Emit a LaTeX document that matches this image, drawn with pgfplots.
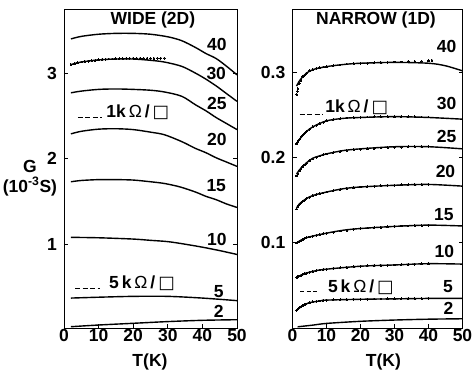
\documentclass[border=0pt]{standalone}
\usepackage{fontspec}
\setmainfont{Liberation Sans}
\newfontfamily\dejavu{DejaVu Sans}
\usepackage{pgfplots}
\pgfplotsset{compat=1.18}
\newcommand{\ff}{\fontsize{17.5}{19.5}\selectfont\bfseries}
\newcommand{\sq}{{\dejavu\mdseries □}}
\newcommand{\om}{{\mdseries Ω}}
\tikzset{
  cl/.style={font=\ff},
  dots/.style={only marks, mark=*, mark size=0.9pt, line width=0pt},
}
\pgfplotsset{
  panel/.style={
    scale only axis, height=319pt, xmin=0, xmax=50,
    xtick={0,10,20,30,40,50}, tick align=inside, xtick pos=left, ytick pos=both,
    axis line style={line width=0.8pt}, major tick length=4pt,
    tick style={line width=0.6pt, black},
    tick label style={font=\ff}, label style={font=\ff},
    /pgf/number format/assume math mode=true,
    xticklabel style={anchor=north, inner sep=0pt, yshift=-1.5pt},
    yticklabel style={anchor=east, inner sep=0pt, xshift=-7pt},
    every axis plot/.append style={line width=1.4pt, black},
    xlabel={T(K)},
  }
}
\begin{document}
\begin{tikzpicture}
\useasboundingbox (-64pt,-45pt) rectangle (410pt,328pt);
% ---------------- WIDE (2D) ----------------
\begin{axis}[panel, at={(0pt,0pt)}, anchor=south west, width=173pt,
  ymin=0.02, ymax=3.75, ytick={1,2,3},
  xlabel style={at={(axis description cs:0.497,0)}, anchor=center, yshift=-34pt},
  ylabel={G\\(10\textsuperscript{-3}S)},
  ylabel style={at={(axis description cs:-0.197,0.47)}, rotate=-90, anchor=center, align=center, font=\ff}]
\addplot[smooth] coordinates {(2,3.40)(5,3.43)(10,3.455)(15,3.465)(20,3.465)(25,3.455)(30,3.425)(34,3.38)(38,3.30)(41,3.23)(44,3.17)(47,3.08)(50,2.98)};
\addplot[smooth] coordinates {(2,3.10)(5,3.13)(10,3.155)(15,3.165)(20,3.165)(25,3.15)(29,3.13)(34,3.08)(38,3.00)(41,2.93)(44,2.85)(47,2.76)(50,2.67)};
\addplot[dots] coordinates {(2,3.10)(3,3.11)(4,3.12)(5,3.13)(6,3.135)(7,3.14)(8,3.145)(9,3.15)(10,3.155)(11,3.16)(12,3.16)(13,3.165)(14,3.165)(15,3.17)(16,3.17)(17,3.17)(18,3.175)(19,3.175)(20,3.175)(21,3.175)(22,3.175)(23,3.175)(24,3.175)(25,3.175)(26,3.175)(27,3.175)(28,3.175)(29,3.175)};
\addplot[smooth] coordinates {(2,2.77)(5,2.79)(10,2.81)(15,2.815)(20,2.81)(25,2.80)(29,2.78)(34,2.73)(38,2.63)(41,2.56)(44,2.48)(47,2.41)(50,2.34)};
\addplot[smooth] coordinates {(2,2.29)(5,2.32)(10,2.345)(15,2.35)(20,2.34)(25,2.31)(29,2.28)(34,2.20)(38,2.12)(41,2.07)(44,2.01)(47,1.96)(50,1.91)};
\addplot[smooth] coordinates {(2,1.73)(5,1.745)(10,1.755)(15,1.755)(20,1.75)(25,1.73)(29,1.71)(33.5,1.67)(38,1.61)(41,1.56)(44,1.52)(47,1.47)(50,1.43)};
\addplot[smooth] coordinates {(2,1.08)(10,1.075)(20,1.06)(25,1.045)(30,1.03)(35,1.00)(40,0.965)(45,0.925)(50,0.88)};
\addplot[smooth] coordinates {(2,0.37)(10,0.38)(20,0.39)(30,0.39)(40,0.37)(50,0.34)};
\addplot[smooth] coordinates {(2,0.035)(10,0.055)(20,0.075)(30,0.095)(40,0.11)(50,0.117)};
\addplot[line width=0.9pt, dash pattern=on 5pt off 2.5pt] coordinates {(4.0,2.48)(11.0,2.48)};
\addplot[line width=0.9pt, dash pattern=on 5pt off 2.5pt] coordinates {(3.2,0.485)(10.4,0.485)};
\node[font=\ff] at (rel axis cs:0.514,0.965) {WIDE (2D)};
\node[font=\ff, anchor=west, inner sep=0pt] at (axis cs:12.2,2.54) {1k\,\om\,/\,\sq};
\node[font=\ff, anchor=west, inner sep=0pt] at (axis cs:13.0,0.547) {5\,k\,\om\,/\,\sq};
\node[cl] at (axis cs:44.2,3.33) {40};
\node[cl] at (axis cs:44.0,3.00) {30};
\node[cl] at (axis cs:44.2,2.65) {25};
\node[cl] at (axis cs:44.2,2.22) {20};
\node[cl] at (axis cs:44.0,1.69) {15};
\node[cl] at (axis cs:44.2,1.06) {10};
\node[cl] at (axis cs:44.7,0.45) {5};
\node[cl] at (axis cs:44.7,0.22) {2};
\end{axis}
% ---------------- NARROW (1D) ----------------
\begin{axis}[panel, at={(228.5pt,0pt)}, anchor=south west, width=170pt,
  ymin=-0.0014, ymax=0.375, ytick={0.1,0.2,0.3}, yticklabels={0.1,0.2,0.3},
  xlabel style={at={(axis description cs:0.535,0)}, anchor=center, yshift=-34pt}]
% 40
\addplot[smooth] coordinates {(1.2,0.284)(2,0.290)(3,0.295)(4,0.299)(6,0.3035)(10,0.307)(15,0.3095)(20,0.311)(30,0.312)(40,0.311)(45,0.308)(50,0.302)};
\addplot[dots] coordinates {(1.2,0.274)(1.4,0.278)(1.6,0.281)(2,0.287)(2.5,0.291)(3,0.295)(3.5,0.297)(4,0.299)(5,0.302)(6,0.3035)(7,0.305)(8,0.306)(9,0.3065)(10,0.307)(12,0.308)(14,0.309)(16,0.310)(18,0.3105)(20,0.311)(22,0.311)(24,0.3115)(26,0.312)(28,0.312)(30,0.3125)(32,0.3125)(34,0.313)(36,0.313)(38,0.3135)(40,0.314)(41,0.3145)};
% 30
\addplot[smooth] coordinates {(1.2,0.216)(2,0.221)(4,0.230)(6,0.236)(10,0.243)(15,0.246)(20,0.247)(30,0.248)(40,0.247)(50,0.245)};
\addplot[dots] coordinates {(1.2,0.216)(1.6,0.219)(2,0.221)(2.5,0.224)(3,0.226)(3.5,0.228)(4,0.230)(5,0.233)(6,0.236)(7,0.238)(8,0.240)(9,0.2415)(10,0.243)(12,0.2445)(14,0.2455)(16,0.2465)(18,0.247)(20,0.247)(22,0.2475)(24,0.248)(26,0.248)(28,0.248)(30,0.248)(32,0.248)(34,0.248)(36,0.248)(38,0.2475)(40,0.2475)};
% 25
\addplot[smooth] coordinates {(1.2,0.180)(2,0.185)(4,0.193)(6,0.199)(10,0.204)(15,0.208)(20,0.210)(30,0.2125)(40,0.2125)(50,0.210)};
\addplot[dots] coordinates {(1.2,0.178)(1.6,0.181)(2,0.184)(2.5,0.187)(3,0.189)(3.5,0.191)(4,0.193)(5,0.196)(6,0.198)(7,0.200)(8,0.2015)(9,0.203)(10,0.204)(12,0.2055)(14,0.207)(16,0.208)(18,0.209)(20,0.2095)(22,0.210)(24,0.2105)(26,0.211)(28,0.2115)(30,0.212)(32,0.212)(34,0.2125)(36,0.2125)(38,0.2125)(40,0.213)};
% 20
\addplot[smooth] coordinates {(1.2,0.140)(2,0.145)(4,0.151)(6,0.155)(10,0.159)(15,0.163)(20,0.165)(30,0.167)(40,0.168)(50,0.166)};
\addplot[dots] coordinates {(1.2,0.139)(1.6,0.142)(2,0.144)(2.5,0.146)(3,0.148)(3.5,0.1495)(4,0.151)(5,0.153)(6,0.155)(7,0.156)(8,0.157)(9,0.158)(10,0.159)(12,0.1605)(14,0.162)(16,0.163)(18,0.164)(20,0.165)(22,0.1655)(24,0.166)(26,0.1665)(28,0.167)(30,0.167)(32,0.1675)(34,0.1675)(36,0.168)(38,0.168)(40,0.168)};
% 15
\addplot[smooth] coordinates {(1.2,0.099)(4,0.105)(10,0.1105)(15,0.114)(20,0.116)(30,0.1185)(40,0.120)(50,0.119)};
\addplot[dots] coordinates {(1.2,0.099)(1.6,0.100)(2,0.101)(2.5,0.102)(3,0.103)(3.5,0.104)(4,0.105)(5,0.106)(6,0.107)(7,0.108)(8,0.109)(9,0.110)(10,0.1105)(12,0.1115)(14,0.113)(16,0.114)(18,0.115)(20,0.116)(22,0.1165)(24,0.117)(26,0.1175)(28,0.118)(30,0.1185)(32,0.119)(34,0.119)(36,0.1195)(38,0.1195)(40,0.120)};
% 10
\addplot[smooth] coordinates {(1.2,0.058)(4,0.0633)(7,0.0663)(10,0.068)(20,0.0715)(30,0.073)(40,0.0745)(50,0.074)};
\addplot[dots] coordinates {(1.2,0.058)(1.6,0.059)(2,0.060)(2.5,0.061)(3,0.062)(3.5,0.0625)(4,0.0633)(5,0.0645)(6,0.0655)(7,0.0663)(8,0.067)(9,0.0675)(10,0.068)(12,0.069)(14,0.0697)(16,0.0703)(18,0.0709)(20,0.0715)(22,0.072)(24,0.0723)(26,0.0726)(28,0.0728)(30,0.073)(32,0.0733)(34,0.0736)(36,0.074)(38,0.0743)(40,0.0745)};
% 5
\addplot[smooth] coordinates {(1.2,0.0195)(3,0.025)(5,0.0285)(8,0.0305)(10,0.0315)(20,0.0325)(30,0.033)(40,0.0335)(50,0.0335)};
\addplot[dots] coordinates {(1.2,0.0195)(1.6,0.021)(2,0.0225)(2.5,0.024)(3,0.025)(3.5,0.026)(4,0.027)(5,0.0285)(6,0.0295)(7,0.030)(8,0.0305)(9,0.031)(10,0.0315)(12,0.032)(14,0.032)(16,0.0322)(18,0.0324)(20,0.0325)(22,0.0327)(24,0.0328)(26,0.0329)(28,0.033)(30,0.033)(32,0.0331)(34,0.0332)(36,0.0333)(38,0.0334)(40,0.0335)};
% 2
\addplot[smooth] coordinates {(1.5,0.0)(6,0.002)(10,0.004)(20,0.0065)(30,0.008)(40,0.009)(50,0.0095)};
\addplot[line width=0.9pt, dash pattern=on 5pt off 2.5pt] coordinates {(2.1,0.250)(8.9,0.250)};
\addplot[line width=0.9pt, dash pattern=on 4pt off 2.5pt] coordinates {(2.3,0.0414)(7.5,0.0414)};
\node[font=\ff] at (rel axis cs:0.491,0.965) {NARROW (1D)};
\node[font=\ff, anchor=west, inner sep=0pt] at (axis cs:9.6,0.259) {1k\,\om\,/\,\sq};
\node[font=\ff, anchor=west, inner sep=0pt] at (axis cs:10.4,0.0467) {5\,k\,\om\,/\,\sq};
\node[cl] at (axis cs:45.3,0.331) {40};
\node[cl] at (axis cs:45.3,0.264) {30};
\node[cl] at (axis cs:45.3,0.225) {25};
\node[cl] at (axis cs:45.0,0.183) {20};
\node[cl] at (axis cs:44.5,0.133) {15};
\node[cl] at (axis cs:44.7,0.0886) {10};
\node[cl] at (axis cs:45.7,0.0473) {5};
\node[cl] at (axis cs:45.9,0.0213) {2};
\end{axis}
\end{tikzpicture}
\end{document}
